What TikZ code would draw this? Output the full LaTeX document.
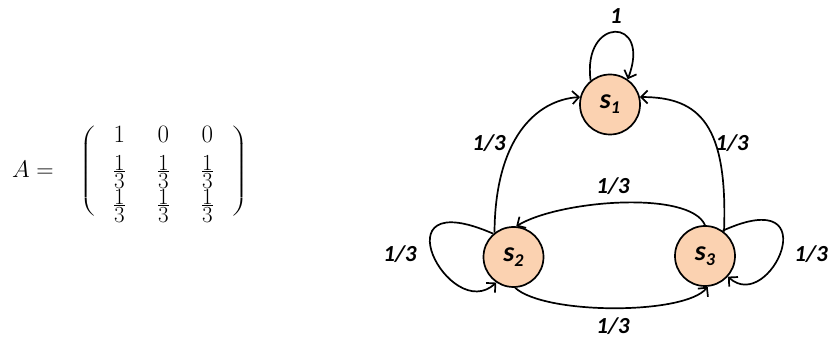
\documentclass[tikz,border=0pt]{standalone}
\usepackage{fix-cm}
\usepackage{fontspec}
\newfontfamily\lblfont{Carlito}
\usetikzlibrary{arrows.meta}
\definecolor{peach}{RGB}{251,210,177}
\newcommand\stname[1]{{\lblfont\bfseries\itshape\fontsize{28}{28}\selectfont s\raisebox{-5pt}{\fontsize{18}{18}\selectfont #1}}}
\newcommand\myfr{\vbox{\offinterlineskip\halign{\hfil##\hfil\cr 1\cr\noalign{\kern1.2pt\hrule height0.6pt\kern1.2pt}3\cr}}}
\begin{document}
\begin{tikzpicture}[x=1pt,y=-1pt,
  state/.style={circle,draw=black,line width=1.7pt,fill=peach,minimum size=60pt,inner sep=0pt},
  lbl/.style={font=\lblfont\bfseries\itshape\fontsize{23}{26}\selectfont, inner sep=0pt},
  arc/.style={line width=1.7pt,-{Straight Barb[length=6.5pt,width=13pt]}},
  ent/.style={inner sep=0pt,font=\fontsize{25}{25}\selectfont,anchor=base},
  fr/.style={inner sep=0pt,font=\fontsize{23}{23}\selectfont},
  par/.style={inner sep=0pt,font=\fontsize{35}{42}\selectfont},
]
\useasboundingbox (0,0) rectangle (828,344);
% matrix
\node[inner sep=0pt,anchor=base west,font=\fontsize{24}{24}\selectfont] (eq) at (12,178) {$A=$};
\node[par] (lp) at (88.4,171) {\scalebox{1.7}[1]{$\left(\vcenter{\hrule height95pt width0pt}\right.$}};
\node[par] (rp) at (239,171) {\scalebox{1.7}[1]{$\left.\vcenter{\hrule height95pt width0pt}\right)$}};
\node[ent] (m11) at (119.3,142.7) {1};
\node[ent] (m12) at (163.3,142.7) {0};
\node[ent] (m13) at (207.3,142.7) {0};
\node[fr] (m21) at (119.3,171.7) {\myfr};
\node[fr] (m22) at (163.3,171.7) {\myfr};
\node[fr] (m23) at (207.3,171.7) {\myfr};
\node[fr] (m31) at (119.3,205.9) {\myfr};
\node[fr] (m32) at (163.3,205.9) {\myfr};
\node[fr] (m33) at (207.3,205.9) {\myfr};
% states
\node[state] (s1) at (610,104.5) {\stname{1}};
\node[state] (s2) at (513.5,257) {\stname{2}};
\node[state] (s3) at (705,256) {\stname{3}};
% edges
\draw[arc] (s1.129) .. controls (582,16) and (652,16) .. (s1.55);
\draw[arc] (s2.128) .. controls (495,140) and (535,100) .. (s1.166);
\draw[arc] (s3.52) .. controls (728,125) and (700,97) .. (s1.14);
\draw[arc] (s3.90) .. controls (690,190) and (560,200) .. (s2.85);
\draw[arc] (s2.273) .. controls (545,315) and (685,315) .. (s3.275);
\draw[arc] (s2.131) .. controls (375,182) and (450,325) .. (s2.236);
\draw[arc] (s3.55) .. controls (830,182) and (770,315) .. (s3.318);
% labels
\node[lbl] (l11) at (616,16.5) {1};
\node[lbl] (l21) at (489,143.5) {1/3};
\node[lbl] (l31) at (732,143.5) {1/3};
\node[lbl] (l32) at (613,186.5) {1/3};
\node[lbl] (l23) at (613,326.5) {1/3};
\node[lbl] (l22) at (400,254) {1/3};
\node[lbl] (l33) at (811,254) {1/3};
\end{tikzpicture}
\end{document}
